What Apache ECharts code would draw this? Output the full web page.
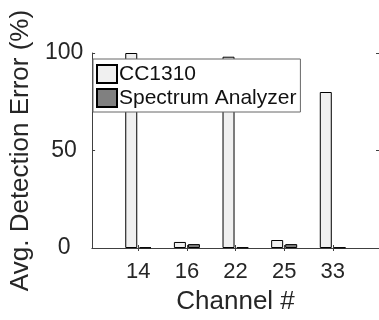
<!DOCTYPE html>
<html><head><meta charset="utf-8">
<script src="https://cdn.jsdelivr.net/npm/echarts@6/dist/echarts.min.js"></script>
<style>html,body{margin:0;padding:0;background:#fff}#c{width:379px;height:320px}</style>
</head><body><div id="c"></div>
<script>
const channels = ['14', '16', '22', '25', '33'];
const cc1310 = [100, 3.1, 98.1, 4.1, 80];
const spectrum = [0.3, 2.0, 0.3, 2.0, 0.3];
const yTicks = [0, 50, 100];

const positions = channels.map((c, i) => i + 1);
const FONT = "'Liberation Sans', Arial, Helvetica, sans-serif";
const axisColor = '#404040';
const textColor = '#262626';

const chart = echarts.init(document.getElementById('c'), null, {renderer: 'canvas'});
const xCommon = {
  type: 'value', min: 0.05, max: 5.95,
  axisLine: {show: true, lineStyle: {color: axisColor, width: 1}},
  splitLine: {show: false},
  axisTick: {show: true, inside: true, length: 3, customValues: positions, lineStyle: {color: axisColor}}
};
const yCommon = {
  type: 'value', min: yTicks[0], max: yTicks[yTicks.length - 1], interval: 50,
  axisLine: {show: true, lineStyle: {color: axisColor, width: 1}},
  splitLine: {show: false},
  axisTick: {show: true, inside: true, length: 3, lineStyle: {color: axisColor}}
};
chart.setOption({
  animation: false,
  grid: {left: 87, right: -1, top: 53, bottom: 71, containLabel: false},
  legend: {
    orient: 'vertical', left: 93, top: 59,
    itemWidth: 20, itemHeight: 18, itemGap: 2,
    padding: [4, 4, 3, 3],
    borderColor: '#666', borderWidth: 1, backgroundColor: '#fff',
    icon: 'rect',
    textStyle: {fontFamily: FONT, fontSize: 21, lineHeight: 22, color: '#111', padding: [0, 0, 0, -3]},
    data: ['CC1310', 'Spectrum Analyzer']
  },
  xAxis: [
    Object.assign({}, xCommon, {
      position: 'bottom',
      name: 'Channel #', nameLocation: 'middle', nameGap: 41,
      nameTextStyle: {fontFamily: FONT, fontSize: 26, color: textColor},
      axisLabel: {show: true, customValues: positions, margin: 13, fontFamily: FONT, fontSize: 22, color: textColor,
        formatter: v => channels[Math.round(v) - 1]}
    }),
    Object.assign({}, xCommon, {position: 'top', axisLabel: {show: false}})
  ],
  yAxis: [
    Object.assign({}, yCommon, {
      position: 'left',
      name: 'Avg. Detection Error (%)', nameLocation: 'middle', nameGap: 53,
      nameTextStyle: {fontFamily: FONT, fontSize: 26, color: textColor},
      axisLabel: {show: true, align: 'center', margin: 28, fontFamily: FONT, fontSize: 23, color: textColor, padding: [5, 0, 0, 0]}
    }),
    Object.assign({}, yCommon, {position: 'right', axisLabel: {show: false}})
  ],
  series: [
    {
      name: 'CC1310', type: 'bar', xAxisIndex: 0, yAxisIndex: 0,
      barWidth: 12, barGap: '17%',
      itemStyle: {color: '#f0f0f0', borderColor: '#000', borderWidth: 1},
      data: positions.map((p, i) => [p, cc1310[i]])
    },
    {
      name: 'Spectrum Analyzer', type: 'bar', xAxisIndex: 0, yAxisIndex: 0,
      barWidth: 12, barGap: '17%',
      itemStyle: {color: '#808080', borderColor: '#000', borderWidth: 1},
      data: positions.map((p, i) => [p, spectrum[i]])
    }
  ]
});
</script></body></html>
